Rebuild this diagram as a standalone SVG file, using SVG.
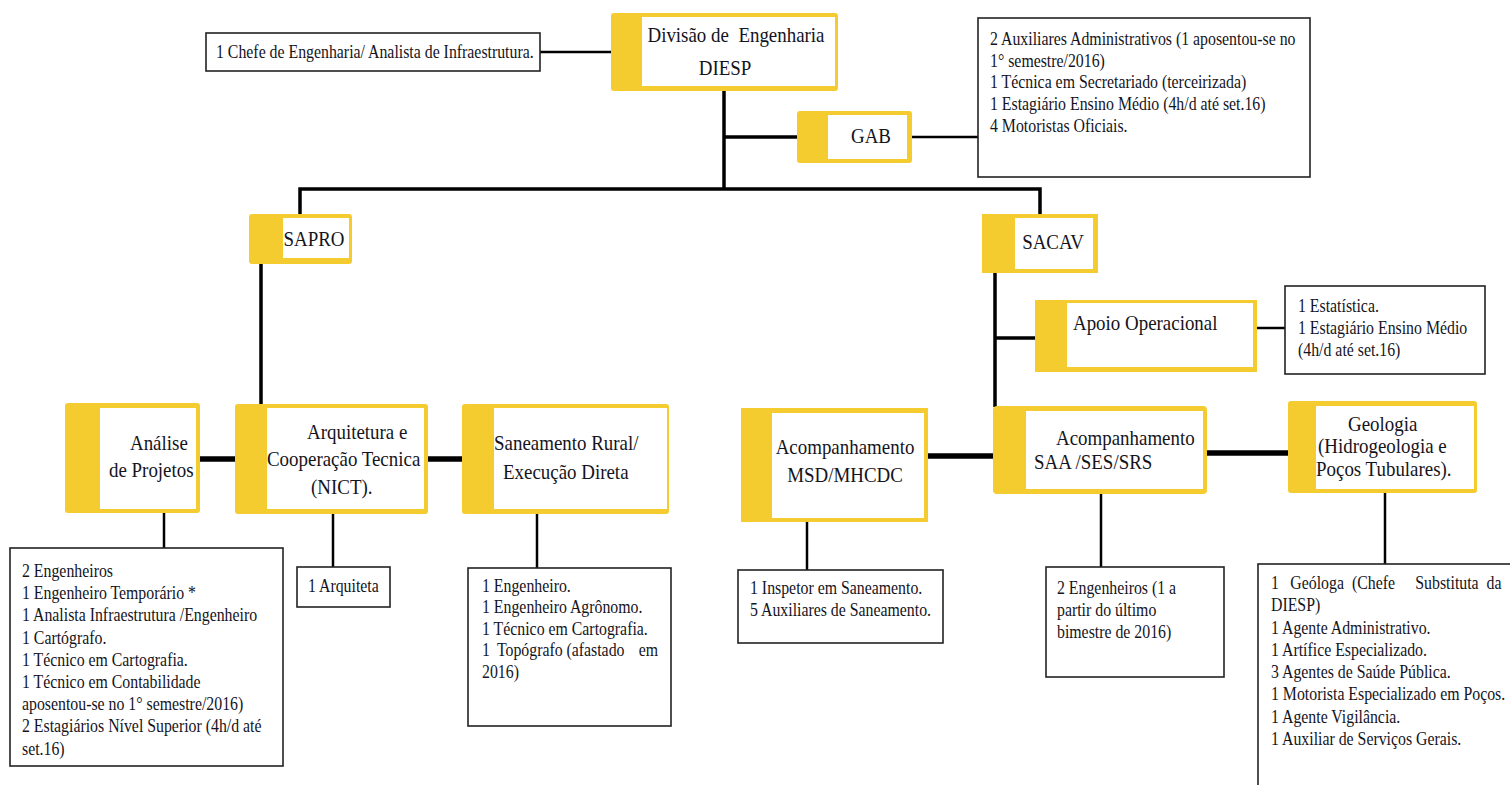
<svg xmlns="http://www.w3.org/2000/svg" width="1510" height="785" viewBox="0 0 1510 785" font-family="'Liberation Serif', 'DejaVu Serif', serif">
  <style>
    .bg { fill: #ffffff; }
    .yel { fill: #F4CC30; }
    .inner { fill: #ffffff; }
    .box { fill: #ffffff; stroke: #222222; stroke-width: 1.6; }
    .ln { stroke: #000000; fill: none; }
    .thin { stroke-width: 2.5; }
    .mid { stroke-width: 3.5; }
    .thick { stroke-width: 5.5; }
    .lbl, .lst { font-family: 'Liberation Serif', 'DejaVu Serif', serif; fill: #14141c; white-space: pre; }
    .lbl { font-size: 21.5px; }
    .lst { font-size: 18px; }
  </style>

  <rect class="bg" x="0" y="0" width="1510" height="785"/>

  <!-- connectors -->
  <g id="connectors">
    <line class="ln thin" x1="540" y1="52" x2="611" y2="52"/>
    <line class="ln mid" x1="724" y1="91" x2="724" y2="190"/>
    <line class="ln mid" x1="724" y1="137" x2="797" y2="137"/>
    <line class="ln thin" x1="912" y1="137" x2="978" y2="137"/>
    <polyline class="ln mid" points="300,214 300,189 1040,189 1040,214"/>
    <line class="ln mid" x1="261" y1="264" x2="261" y2="405"/>
    <line class="ln mid" x1="995" y1="273" x2="995" y2="407"/>
    <line class="ln mid" x1="995" y1="338" x2="1035" y2="338"/>
    <line class="ln thin" x1="1257" y1="328" x2="1285" y2="328"/>
    <line class="ln thick" x1="200" y1="459" x2="235" y2="459"/>
    <line class="ln thick" x1="428" y1="459" x2="462" y2="459"/>
    <line class="ln thick" x1="928" y1="456" x2="993" y2="456"/>
    <line class="ln thick" x1="1207" y1="453" x2="1288" y2="453"/>
    <line class="ln thin" x1="164" y1="513" x2="164" y2="548"/>
    <line class="ln thin" x1="333" y1="514" x2="333" y2="567"/>
    <line class="ln thin" x1="537" y1="514" x2="537" y2="568"/>
    <line class="ln thin" x1="807" y1="522" x2="807" y2="570"/>
    <line class="ln thin" x1="1101" y1="494" x2="1101" y2="567"/>
    <line class="ln thin" x1="1385" y1="493" x2="1385" y2="564"/>
  </g>

  <!-- staff boxes -->
  <g id="chefe">
    <rect class="box" x="206" y="33" width="334" height="38"/>
    <text class="lst" transform="matrix(0.88 0 0 1 216 58)">1 Chefe de Engenharia/ Analista de Infraestrutura.</text>
  </g>

  <g id="diesp">
    <rect class="yel" x="611" y="13" width="227" height="78" rx="3"/>
    <rect class="inner" x="642" y="17" width="193" height="69"/>
    <text class="lbl" text-anchor="middle" transform="matrix(0.88 0 0 1 736 42)">Divisão de  Engenharia</text>
    <text class="lbl" text-anchor="middle" transform="matrix(0.88 0 0 1 725 75)">DIESP</text>
  </g>

  <g id="gab">
    <rect class="yel" x="797" y="111" width="115" height="52" rx="3"/>
    <rect class="inner" x="828" y="115" width="79" height="44"/>
    <text class="lbl" text-anchor="middle" transform="matrix(0.88 0 0 1 871 143)">GAB</text>
  </g>

  <g id="gab-equipe">
    <rect class="box" x="978" y="18" width="332" height="159"/>
    <text class="lst" transform="matrix(0.88 0 0 1 990 45)"><tspan x="0" dy="0">2 Auxiliares Administrativos (1 aposentou-se no</tspan><tspan x="0" dy="21.7">1° semestre/2016)</tspan><tspan x="0" dy="21.7">1 Técnica em Secretariado (terceirizada)</tspan><tspan x="0" dy="21.7">1 Estagiário Ensino Médio (4h/d até set.16)</tspan><tspan x="0" dy="21.7">4 Motoristas Oficiais.</tspan></text>
  </g>

  <g id="sapro">
    <rect class="yel" x="249" y="214" width="103" height="50" rx="3"/>
    <rect class="inner" x="283" y="218" width="66" height="40"/>
    <text class="lbl" text-anchor="middle" transform="matrix(0.88 0 0 1 314 246)">SAPRO</text>
  </g>

  <g id="sacav">
    <rect class="yel" x="982" y="214" width="116" height="59"/>
    <rect class="inner" x="1015" y="218" width="78" height="51"/>
    <text class="lbl" text-anchor="middle" transform="matrix(0.88 0 0 1 1053 249)">SACAV</text>
  </g>

  <g id="apoio">
    <rect class="yel" x="1035" y="300" width="222" height="72"/>
    <rect class="inner" x="1067" y="303" width="186" height="64"/>
    <text class="lbl" transform="matrix(0.88 0 0 1 1073 330)">Apoio Operacional</text>
  </g>

  <g id="apoio-equipe">
    <rect class="box" x="1285" y="286" width="200" height="88"/>
    <text class="lst" transform="matrix(0.88 0 0 1 1298 312)"><tspan x="0" dy="0">1 Estatística.</tspan><tspan x="0" dy="22">1 Estagiário Ensino Médio</tspan><tspan x="0" dy="22">(4h/d até set.16)</tspan></text>
  </g>

  <g id="analise">
    <rect class="yel" x="65" y="403" width="135" height="110" rx="3"/>
    <rect class="inner" x="100" y="408" width="96" height="101"/>
    <text class="lbl" transform="matrix(0.88 0 0 1 130 450)">Análise</text>
    <text class="lbl" transform="matrix(0.88 0 0 1 109 477)">de Projetos</text>
  </g>

  <g id="arquitetura">
    <rect class="yel" x="235" y="404" width="193" height="110" rx="3"/>
    <rect class="inner" x="267" y="408" width="157" height="101"/>
    <text class="lbl" transform="matrix(0.88 0 0 1 307 439)">Arquitetura e</text>
    <text class="lbl" transform="matrix(0.88 0 0 1 267 466)">Cooperação Tecnica</text>
    <text class="lbl" transform="matrix(0.88 0 0 1 311 494)">(NICT).</text>
  </g>

  <g id="saneamento">
    <rect class="yel" x="462" y="404" width="207" height="110" rx="3"/>
    <rect class="inner" x="494" y="408" width="173" height="101"/>
    <text class="lbl" transform="matrix(0.88 0 0 1 494 450)">Saneamento Rural/</text>
    <text class="lbl" transform="matrix(0.88 0 0 1 503 479)">Execução Direta</text>
  </g>

  <g id="msd">
    <rect class="yel" x="741" y="408" width="187" height="114"/>
    <rect class="inner" x="772" y="413" width="152" height="105"/>
    <text class="lbl" text-anchor="middle" transform="matrix(0.88 0 0 1 845 454)">Acompanhamento</text>
    <text class="lbl" text-anchor="middle" transform="matrix(0.88 0 0 1 845 482)">MSD/MHCDC</text>
  </g>

  <g id="saa">
    <rect class="yel" x="993" y="406" width="214" height="88" rx="4"/>
    <rect class="inner" x="1026" y="411" width="177" height="78"/>
    <text class="lbl" transform="matrix(0.88 0 0 1 1056 445)">Acompanhamento</text>
    <text class="lbl" transform="matrix(0.88 0 0 1 1034 469)">SAA /SES/SRS</text>
  </g>

  <g id="geologia">
    <rect class="yel" x="1288" y="401" width="189" height="92" rx="3"/>
    <rect class="inner" x="1316" y="406" width="158" height="83"/>
    <text class="lbl" transform="matrix(0.88 0 0 1 1348 431)">Geologia</text>
    <text class="lbl" transform="matrix(0.88 0 0 1 1318 453)">(Hidrogeologia e</text>
    <text class="lbl" transform="matrix(0.88 0 0 1 1316 476)">Poços Tubulares).</text>
  </g>

  <g id="analise-equipe">
    <rect class="box" x="10" y="548" width="273" height="218"/>
    <text class="lst" transform="matrix(0.88 0 0 1 22 577)"><tspan x="0" dy="0">2 Engenheiros</tspan><tspan x="0" dy="22.2">1 Engenheiro Temporário *</tspan><tspan x="0" dy="22.2">1 Analista Infraestrutura /Engenheiro</tspan><tspan x="0" dy="22.2">1 Cartógrafo.</tspan><tspan x="0" dy="22.2">1 Técnico em Cartografia.</tspan><tspan x="0" dy="22.2">1 Técnico em Contabilidade</tspan><tspan x="0" dy="22.2">aposentou-se no 1° semestre/2016)</tspan><tspan x="0" dy="22.2">2 Estagiários Nível Superior (4h/d até</tspan><tspan x="0" dy="22.2">set.16)</tspan></text>
  </g>

  <g id="arquitetura-equipe">
    <rect class="box" x="297" y="567" width="93" height="40"/>
    <text class="lst" transform="matrix(0.88 0 0 1 308 592)">1 Arquiteta</text>
  </g>

  <g id="saneamento-equipe">
    <rect class="box" x="468" y="568" width="203" height="158"/>
    <text class="lst" transform="matrix(0.88 0 0 1 482 592)"><tspan x="0" dy="0">1 Engenheiro.</tspan><tspan x="0" dy="21.5">1 Engenheiro Agrônomo.</tspan><tspan x="0" dy="21.5">1 Técnico em Cartografia.</tspan><tspan x="0" dy="21.5">1</tspan><tspan x="17" dy="0">Topógrafo</tspan><tspan x="96" dy="0">(afastado</tspan><tspan x="178" dy="0">em</tspan><tspan x="0" dy="21.5">2016)</tspan></text>
  </g>

  <g id="msd-equipe">
    <rect class="box" x="738" y="570" width="205" height="73"/>
    <text class="lst" transform="matrix(0.88 0 0 1 750 594)"><tspan x="0" dy="0">1 Inspetor em Saneamento.</tspan><tspan x="0" dy="22">5 Auxiliares de Saneamento.</tspan></text>
  </g>

  <g id="saa-equipe">
    <rect class="box" x="1046" y="567" width="178" height="110"/>
    <text class="lst" transform="matrix(0.88 0 0 1 1057 594)"><tspan x="0" dy="0">2 Engenheiros (1 a</tspan><tspan x="0" dy="22">partir do último</tspan><tspan x="0" dy="22">bimestre de 2016)</tspan></text>
  </g>

  <g id="geologia-equipe">
    <rect class="box" x="1258" y="564" width="262" height="240"/>
    <text class="lst" transform="matrix(0.88 0 0 1 1271 589)"><tspan x="0" dy="0">1</tspan><tspan x="22" dy="0">Geóloga</tspan><tspan x="92" dy="0">(Chefe</tspan><tspan x="164" dy="0">Substituta</tspan><tspan x="245" dy="0">da</tspan><tspan x="0" dy="22.3">DIESP)</tspan><tspan x="0" dy="22.3">1 Agente Administrativo.</tspan><tspan x="0" dy="22.3">1 Artífice Especializado.</tspan><tspan x="0" dy="22.3">3 Agentes de Saúde Pública.</tspan><tspan x="0" dy="22.3">1 Motorista Especializado em Poços.</tspan><tspan x="0" dy="22.3">1 Agente Vigilância.</tspan><tspan x="0" dy="22.3">1 Auxiliar de Serviços Gerais.</tspan></text>
  </g>
</svg>
